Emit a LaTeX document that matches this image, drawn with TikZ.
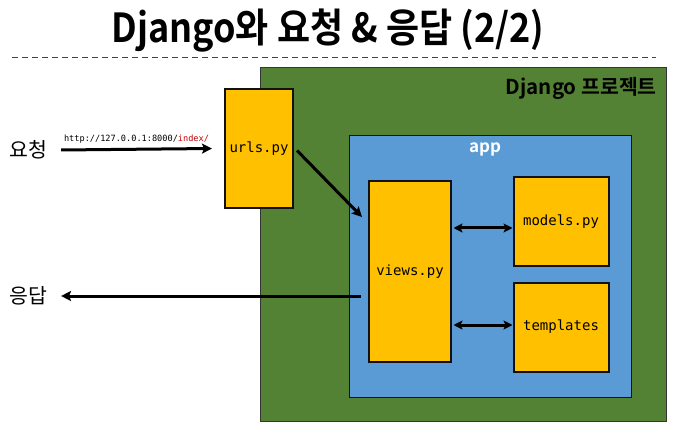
\documentclass[tikz,border=0pt]{standalone}
\usepackage{fontspec}
\setmonofont{DejaVu Sans Mono}
\newfontfamily\kr{Noto Sans CJK KR}
\newfontfamily\krb{Noto Sans CJK KR Bold}
\usepackage{xcolor}
\usetikzlibrary{arrows.meta,positioning,calc}
\definecolor{Ink}{HTML}{111111}
\definecolor{Proj}{HTML}{548235}
\definecolor{App}{HTML}{5B9BD5}
\definecolor{File}{HTML}{FFC000}
\definecolor{UrlRed}{HTML}{C00000}

\begin{document}
\begin{tikzpicture}[x=1pt, y=-1pt,
  filebox/.style={draw=Ink, line width=2pt, fill=File, inner sep=0pt,
    font=\ttfamily\fontsize{14}{16}\selectfont},
  arr/.style={line width=3pt, -{Stealth[length=10pt,width=10pt,inset=2pt]}},
  dbl/.style={line width=3pt, {Stealth[length=9pt,width=9pt,inset=2pt]}-{Stealth[length=9pt,width=9pt,inset=2pt]}},
  side/.style={inner sep=0pt, font=\kr\fontsize{20.5}{22}\selectfont}]
  \useasboundingbox (0,0) rectangle (684,427);

  \node[inner sep=0pt] (title) at (328,31)
    {\scalebox{0.9}[1]{\krb\fontsize{40}{44}\selectfont Django와 요청 \& 응답 (2/2)}};
  \draw[Ink!80, line width=1pt, dash pattern=on 6pt off 4pt] (12,58) -- (656,58);

  \node[draw=Ink!85, line width=1pt, fill=Proj, minimum width=406, minimum height=353, inner sep=0pt] (proj) at (463,244.5) {};
  \node[anchor=east, inner sep=0pt, font=\krb\fontsize{20.5}{22}\selectfont] (projlbl) at (657,88) {Django 프로젝트};

  \node[draw=Ink!90!blue, line width=1pt, fill=App, minimum width=282, minimum height=261, inner sep=0pt] (app) at (490,266.5) {};
  \node[inner sep=0pt, text=white, font=\krb\fontsize{17}{19}\selectfont] (applbl) at (485,149) {app};

  \node[filebox, minimum width=68, minimum height=119] (urls) at (259,148.5) {urls.py};
  \node[filebox, minimum width=82, minimum height=181] (views) at (410,271.5) {views.py};
  \node[filebox, minimum width=95, minimum height=89] (models) at (561,221.5) {models.py};
  \node[filebox, minimum width=95, minimum height=89] (tmpl) at (561,327) {templates};

  \node[side] (req) at (28,150) {요청};
  \node[side] (res) at (28,296) {응답};

  \draw[arr] ([xshift=14pt]req.east) -- node[above=4pt, inner sep=0pt, font=\ttfamily\fontsize{8.6}{10}\selectfont] (url)
    {http://127.0.0.1:8000/\textcolor{UrlRed}{index/}} ([xshift=-12pt]urls.west);

  \coordinate (hit) at (362,217);
  \draw[arr] ([xshift=3pt,yshift=-2pt]urls.east) -- (hit);

  \coordinate (back) at ($(views.west)+(-7,24.5)$);
  \draw[arr] (back) -- ([xshift=14pt]res.east |- back);

  \coordinate (m) at ($(models.west)+(0,6.5)$);
  \draw[dbl] ([xshift=1.5pt]views.east |- m) -- (m);
  \coordinate (t) at ($(tmpl.west)+(0,-2)$);
  \draw[dbl] ([xshift=1.5pt]views.east |- t) -- (t);
\end{tikzpicture}
\end{document}
